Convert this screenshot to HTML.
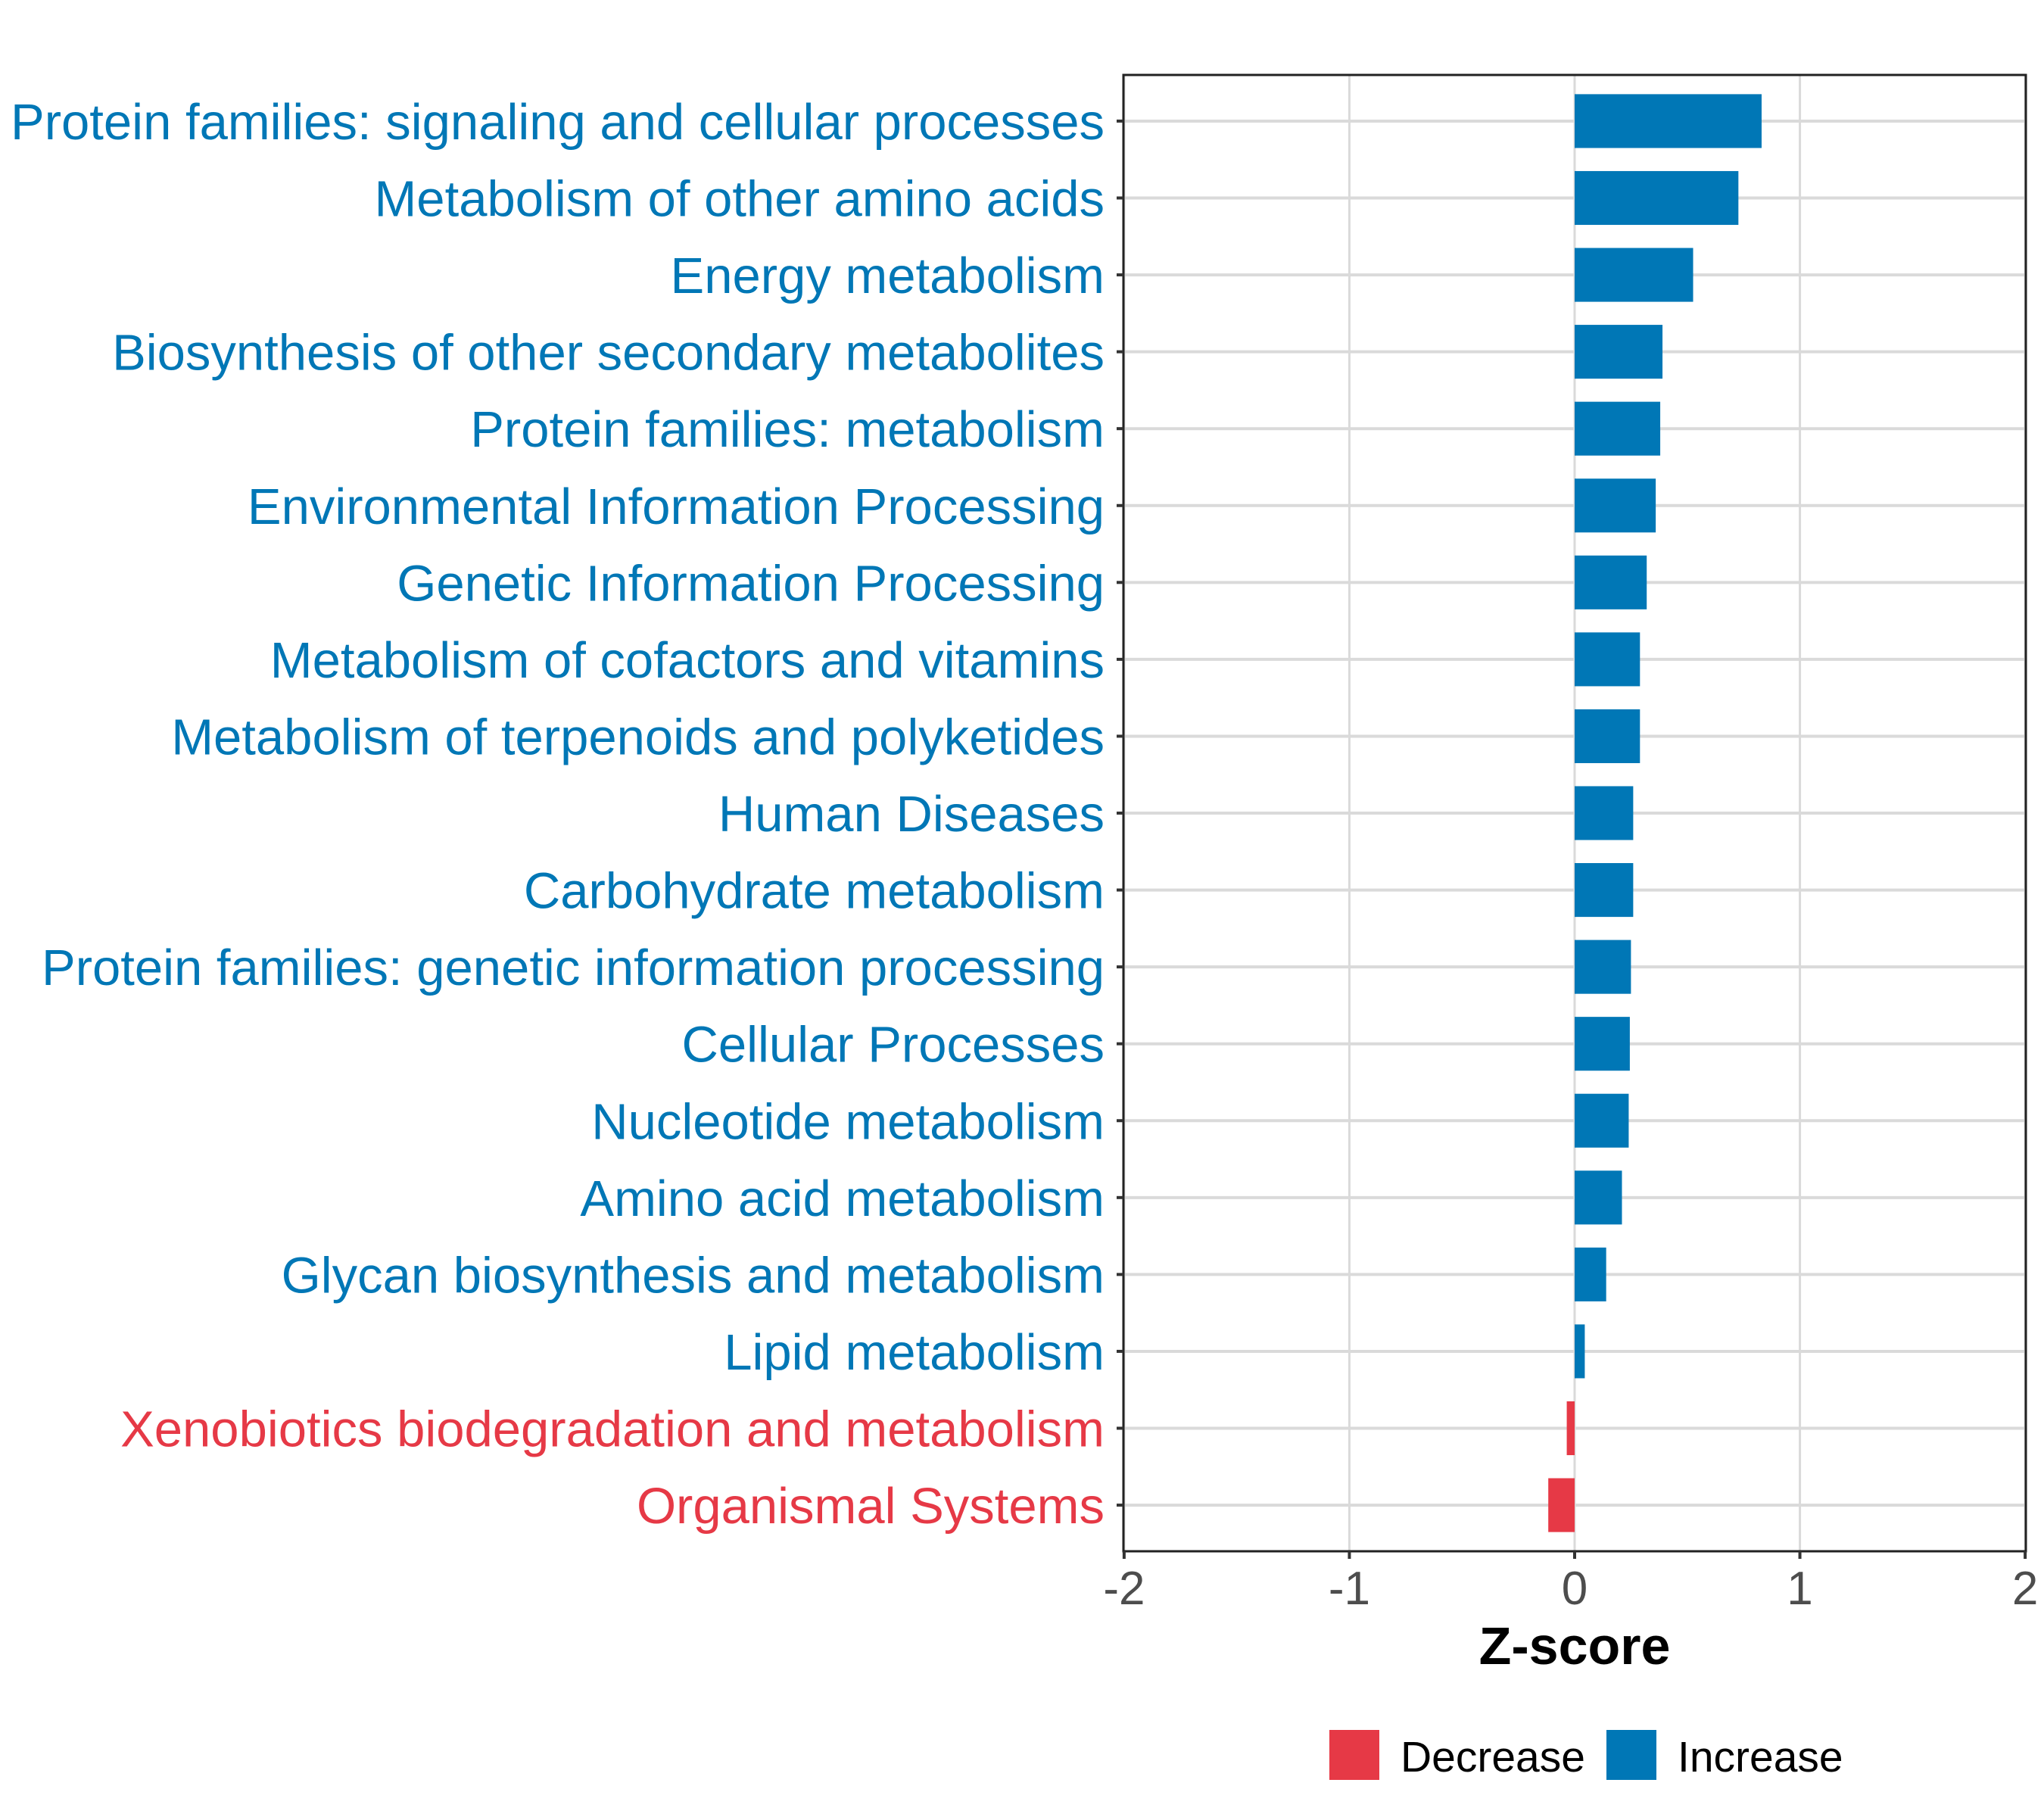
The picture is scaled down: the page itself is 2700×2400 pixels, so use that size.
<!DOCTYPE html>
<html><head><meta charset="utf-8"><style>
html,body{margin:0;padding:0;background:#fff;}
svg{display:block;font-family:"Liberation Sans",Arial,sans-serif;}
</style></head><body>
<svg id="chart" width="2700" height="2400" viewBox="0 0 2700 2400" xmlns="http://www.w3.org/2000/svg"></svg>
<script>
const categories = ["Protein families: signaling and cellular processes","Metabolism of other amino acids","Energy metabolism","Biosynthesis of other secondary metabolites","Protein families: metabolism","Environmental Information Processing","Genetic Information Processing","Metabolism of cofactors and vitamins","Metabolism of terpenoids and polyketides","Human Diseases","Carbohydrate metabolism","Protein families: genetic information processing","Cellular Processes","Nucleotide metabolism","Amino acid metabolism","Glycan biosynthesis and metabolism","Lipid metabolism","Xenobiotics biodegradation and metabolism","Organismal Systems"];
const zscores = [0.83,0.727,0.526,0.39,0.38,0.36,0.32,0.29,0.29,0.26,0.26,0.25,0.245,0.24,0.21,0.14,0.045,-0.035,-0.117];
const xTicks = [-2,-1,0,1,2];
const xTickLabels = ["-2","-1","0","1","2"];
const legendLabels = ["Decrease","Increase"];

const BLUE="#0077B6", RED="#E63946";
const L=1484, R=2676, T=99, B=2049;
const xMin=-2.003, xMax=2.003;
const x = v => L + (v - xMin) / (xMax - xMin) * (R - L);
const n = categories.length;
const step = (B - T) / (n + 0.2);
const yc = i => T + (i + 0.6) * step;
const svg = document.getElementById('chart');
const NS = "http://www.w3.org/2000/svg";
function mk(tag, attrs, parent){const e=document.createElementNS(NS,tag);for(const k in attrs)e.setAttribute(k,attrs[k]);(parent||svg).appendChild(e);return e;}

const panel = mk('rect',{x:L,y:T,width:R-L,height:B-T,fill:'#fff'});



xTicks.forEach((t,k)=>{
  const g = mk('line',{x1:x(t),x2:x(t),y1:T,y2:B,stroke:'#DADADA','stroke-width':3});
  
  
});
categories.forEach((c,i)=>{
  const g = mk('line',{x1:L,x2:R,y1:yc(i),y2:yc(i),stroke:'#DADADA','stroke-width':4});
  
  
});
const bh = step*0.7;
categories.forEach((c,i)=>{
  const v = zscores[i];
  const x0 = Math.min(x(0), x(v)), w = Math.abs(x(v)-x(0));
  const b = mk('rect',{x:x0,y:yc(i)-bh/2,width:w,height:bh,fill:v>=0?BLUE:RED});
  
  
});
const border = mk('rect',{x:L,y:T,width:R-L,height:B-T,fill:'none',stroke:'#222','stroke-width':3});



categories.forEach((c,i)=>{
  const tk = mk('line',{x1:L-9,x2:L,y1:yc(i),y2:yc(i),stroke:'#333','stroke-width':4});
  
  
  const t = mk('text',{x:1459,y:yc(i)+24,'text-anchor':'end','font-size':67,fill:zscores[i]>=0?BLUE:RED});
  t.textContent = c;
  
  
});
xTicks.forEach((v,k)=>{
  const tk = mk('line',{x1:x(v),x2:x(v),y1:B,y2:B+10,stroke:'#333','stroke-width':4});
  
  
  const t = mk('text',{x:x(v),y:2119,'text-anchor':'middle','font-size':62,fill:'#4D4D4D'});
  t.textContent = xTickLabels[k];
  
  
});
const xt = mk('text',{x:2080,y:2198,'text-anchor':'middle','font-size':70,'font-weight':'bold',fill:'#000'});
xt.textContent='Z-score';



const lg = [[1756,RED],[2122,BLUE]];
legendLabels.forEach((lab,k)=>{
  const r = mk('rect',{x:lg[k][0],y:2285,width:66,height:66,fill:lg[k][1]});
  
  
  const t = mk('text',{x:lg[k][0]+94,y:2340,'font-size':57,fill:'#000'});
  t.textContent = lab;
  
  
});
</script>
</body></html>
